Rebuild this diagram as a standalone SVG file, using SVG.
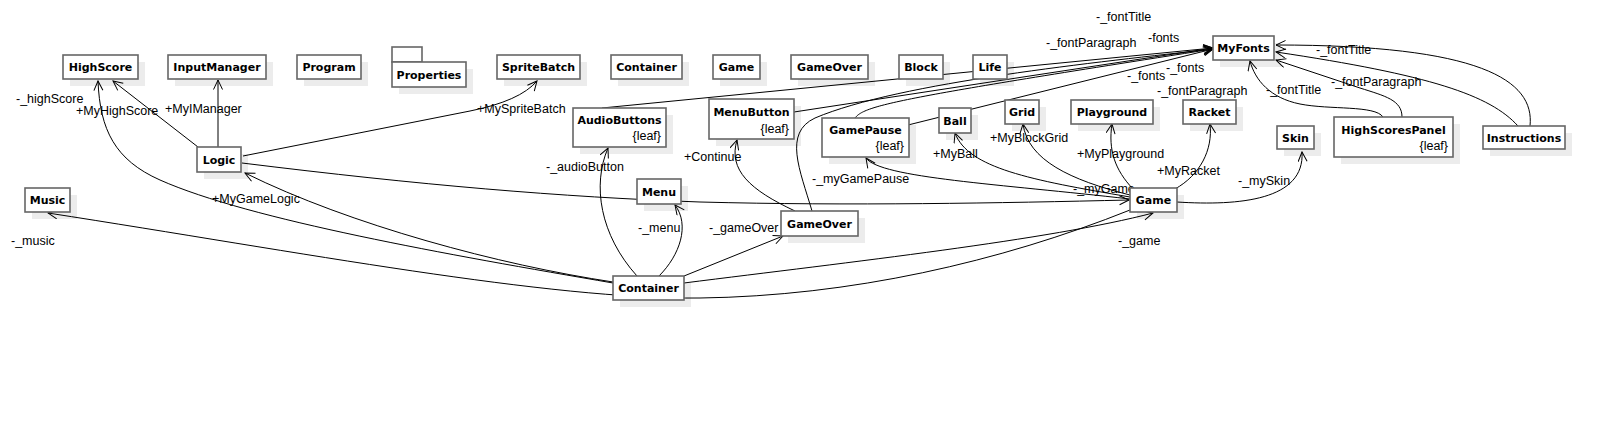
<svg xmlns="http://www.w3.org/2000/svg" width="1605" height="445" viewBox="0 0 1605 445">
<style>
.b{fill:#fff;stroke:#666;stroke-width:1.6}
.s{fill:#ececec}
.n{font-family:"DejaVu Sans",Verdana,sans-serif;font-weight:bold;font-size:11px;fill:#000;text-anchor:middle}
.l{font-family:"Liberation Sans",Arial,sans-serif;font-size:12.5px;fill:#000}
.lf{font-family:"Liberation Sans",Arial,sans-serif;font-size:12.5px;fill:#000;text-anchor:end}
.c path{fill:none;stroke:#000;stroke-width:1;marker-end:url(#a)}
</style>
<defs>
<marker id="a" markerWidth="12" markerHeight="12" refX="10.5" refY="5" orient="auto" markerUnits="userSpaceOnUse"><path d="M1,0.5 L10.5,5 L1,9.5" fill="none" stroke="#000" stroke-width="1"/></marker>
</defs>
<rect width="1605" height="445" fill="#fff"/>
<g id="shadows">
<rect class="s" x="70" y="62" width="75" height="24"/>
<rect class="s" x="175" y="62" width="98" height="24"/>
<rect class="s" x="304" y="62" width="64" height="24"/>
<rect class="s" x="399" y="69" width="74" height="25"/>
<rect class="s" x="504" y="62" width="83" height="24"/>
<rect class="s" x="618" y="62" width="71" height="24"/>
<rect class="s" x="720" y="62" width="47" height="24"/>
<rect class="s" x="798" y="62" width="77" height="24"/>
<rect class="s" x="906" y="62" width="44" height="24"/>
<rect class="s" x="980" y="62" width="34" height="24"/>
<rect class="s" x="1220" y="43" width="61" height="24"/>
<rect class="s" x="580" y="115" width="93" height="39"/>
<rect class="s" x="716" y="106" width="85" height="40"/>
<rect class="s" x="829" y="125" width="87" height="39"/>
<rect class="s" x="946" y="115" width="32" height="25"/>
<rect class="s" x="1012" y="107" width="34" height="24"/>
<rect class="s" x="1078" y="107" width="82" height="24"/>
<rect class="s" x="1190" y="107" width="53" height="24"/>
<rect class="s" x="1284" y="133" width="37" height="23"/>
<rect class="s" x="1341" y="124" width="119" height="40"/>
<rect class="s" x="1490" y="133" width="82" height="23"/>
<rect class="s" x="204" y="154" width="44" height="25"/>
<rect class="s" x="32" y="195" width="45" height="24"/>
<rect class="s" x="644" y="186" width="44" height="25"/>
<rect class="s" x="788" y="218" width="77" height="25"/>
<rect class="s" x="1137" y="195" width="47" height="24"/>
<rect class="s" x="620" y="283" width="71" height="24"/>
</g>
<g id="connectors" class="c">
<path d="M198,147 L113,81"/>
<path d="M218,147 L218,80"/>
<path d="M243,156 L470,111 Q520,101 537,81"/>
<path d="M613,283 C450,255 250,220 160,180 C115,160 100,130 98,81"/>
<path d="M613,282 C500,265 350,225 245,173"/>
<path d="M1130,210 C1000,262 850,296 700,298 C550,300 300,252 48,213"/>
<path d="M242,163 C420,185 560,197 700,202 C850,206 1000,203 1129,200"/>
<path d="M637,276 C600,235 592,185 608,148"/>
<path d="M659,276 C680,255 690,225 675,205"/>
<path d="M684,276 L783,236"/>
<path d="M684,283 C850,262 1050,240 1153,213"/>
<path d="M795,211 C750,190 728,170 737,140"/>
<path d="M1130,199 C1000,184 880,178 866,158"/>
<path d="M1130,197 C1030,180 968,168 955,133"/>
<path d="M1130,195 C1070,180 1028,160 1023,124"/>
<path d="M1133,189 C1115,170 1108,150 1112,124"/>
<path d="M1175,189 C1200,175 1213,150 1210,124"/>
<path d="M1177,202 C1240,206 1305,200 1302,152"/>
<path d="M602,108 L1213,48"/>
<path d="M794,112 L1213,48"/>
<path d="M908,125 L1213,49"/>
<path d="M855,118 C865,105 900,98 1213,49"/>
<path d="M812,211 C800,170 783,133 815,118 C900,82 1100,62 1213,49"/>
<path d="M1383,117 C1375,105 1330,110 1300,104 C1270,98 1255,80 1250,61"/>
<path d="M1402,117 C1402,100 1385,96 1360,88 L1276,60"/>
<path d="M1518,126 C1490,95 1430,75 1276,52"/>
<path d="M1530,126 C1535,80 1480,45 1276,45"/>
</g>
<g id="labels">
<text class="l" x="16" y="103">-_highScore</text>
<text class="l" x="76" y="115">+MyHighScore</text>
<text class="l" x="165" y="113">+MyIManager</text>
<text class="l" x="477" y="113">+MySpriteBatch</text>
<text class="l" x="546" y="171">-_audioButton</text>
<text class="l" x="684" y="161">+Continue</text>
<text class="l" x="812" y="183">-_myGamePause</text>
<text class="l" x="933" y="158">+MyBall</text>
<text class="l" x="990" y="142">+MyBlockGrid</text>
<text class="l" x="1077" y="158">+MyPlayground</text>
<text class="l" x="1157" y="175">+MyRacket</text>
<text class="l" x="1238" y="185">-_mySkin</text>
<text class="l" x="1073" y="193">-_myGame</text>
<text class="l" x="1118" y="245">-_game</text>
<text class="l" x="709" y="232">-_gameOver</text>
<text class="l" x="638" y="232">-_menu</text>
<text class="l" x="212" y="203">+MyGameLogic</text>
<text class="l" x="11" y="245">-_music</text>
<text class="l" x="1096" y="21">-_fontTitle</text>
<text class="l" x="1046" y="47">-_fontParagraph</text>
<text class="l" x="1148" y="42">-fonts</text>
<text class="l" x="1127" y="80">-_fonts</text>
<text class="l" x="1166" y="72">-_fonts</text>
<text class="l" x="1157" y="95">-_fontParagraph</text>
<text class="l" x="1316" y="54">-_fontTitle</text>
<text class="l" x="1266" y="94">-_fontTitle</text>
<text class="l" x="1331" y="86">-_fontParagraph</text>
</g>
<g id="HighScore"><rect class="b" x="63" y="55" width="75" height="24"/><text class="n" x="100.5" y="71">HighScore</text></g>
<g id="InputManager"><rect class="b" x="168" y="55" width="98" height="24"/><text class="n" x="217" y="71">InputManager</text></g>
<g id="Program"><rect class="b" x="297" y="55" width="64" height="24"/><text class="n" x="329" y="71">Program</text></g>
<g id="Properties"><rect class="b" x="392" y="47" width="30" height="15"/><rect class="b" x="392" y="62" width="74" height="25"/><text class="n" x="429" y="79">Properties</text></g>
<g id="SpriteBatch"><rect class="b" x="497" y="55" width="83" height="24"/><text class="n" x="538.5" y="71">SpriteBatch</text></g>
<g id="ContainerTop"><rect class="b" x="611" y="55" width="71" height="24"/><text class="n" x="646.5" y="71">Container</text></g>
<g id="GameTop"><rect class="b" x="713" y="55" width="47" height="24"/><text class="n" x="736.5" y="71">Game</text></g>
<g id="GameOverTop"><rect class="b" x="791" y="55" width="77" height="24"/><text class="n" x="829.5" y="71">GameOver</text></g>
<g id="Block"><rect class="b" x="899" y="55" width="44" height="24"/><text class="n" x="921" y="71">Block</text></g>
<g id="Life"><rect class="b" x="973" y="55" width="34" height="24"/><text class="n" x="990" y="71">Life</text></g>
<g id="MyFonts"><rect class="b" x="1213" y="36" width="61" height="24"/><text class="n" x="1243.5" y="52">MyFonts</text></g>
<g id="AudioButtons"><rect class="b" x="573" y="108" width="93" height="39"/><text class="n" x="619.5" y="124">AudioButtons</text><text class="lf" x="661" y="140">{leaf}</text></g>
<g id="MenuButton"><rect class="b" x="709" y="99" width="85" height="40"/><text class="n" x="751.5" y="116">MenuButton</text><text class="lf" x="789" y="133">{leaf}</text></g>
<g id="GamePause"><rect class="b" x="822" y="118" width="87" height="39"/><text class="n" x="865.5" y="134">GamePause</text><text class="lf" x="904" y="150">{leaf}</text></g>
<g id="Ball"><rect class="b" x="939" y="108" width="32" height="25"/><text class="n" x="955" y="125">Ball</text></g>
<g id="Grid"><rect class="b" x="1005" y="100" width="34" height="24"/><text class="n" x="1022" y="116">Grid</text></g>
<g id="Playground"><rect class="b" x="1071" y="100" width="82" height="24"/><text class="n" x="1112" y="116">Playground</text></g>
<g id="Racket"><rect class="b" x="1183" y="100" width="53" height="24"/><text class="n" x="1209.5" y="116">Racket</text></g>
<g id="Skin"><rect class="b" x="1277" y="126" width="37" height="23"/><text class="n" x="1295.5" y="142">Skin</text></g>
<g id="HighScoresPanel"><rect class="b" x="1334" y="117" width="119" height="40"/><text class="n" x="1393.5" y="134">HighScoresPanel</text><text class="lf" x="1448" y="150">{leaf}</text></g>
<g id="Instructions"><rect class="b" x="1483" y="126" width="82" height="23"/><text class="n" x="1524" y="142">Instructions</text></g>
<g id="Logic"><rect class="b" x="197" y="147" width="44" height="25"/><text class="n" x="219" y="164">Logic</text></g>
<g id="Music"><rect class="b" x="25" y="188" width="45" height="24"/><text class="n" x="47.5" y="204">Music</text></g>
<g id="Menu"><rect class="b" x="637" y="179" width="44" height="25"/><text class="n" x="659" y="196">Menu</text></g>
<g id="GameOver"><rect class="b" x="781" y="211" width="77" height="25"/><text class="n" x="819.5" y="228">GameOver</text></g>
<g id="Game"><rect class="b" x="1130" y="188" width="47" height="24"/><text class="n" x="1153.5" y="204">Game</text></g>
<g id="Container"><rect class="b" x="613" y="276" width="71" height="24"/><text class="n" x="648.5" y="292">Container</text></g>
</svg>
